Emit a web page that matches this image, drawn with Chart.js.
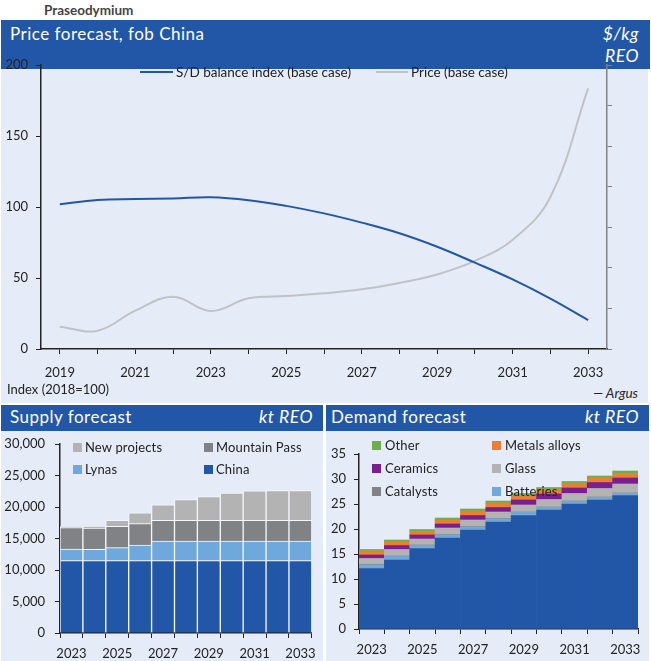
<!DOCTYPE html>
<html lang="en">
<head>
<meta charset="UTF-8">
<title>Praseodymium</title>
<script src="https://cdn.jsdelivr.net/npm/chart.js"></script>
<style>
  html, body { margin: 0; padding: 0; background: #fff; }
  body { width: 651px; height: 661px; position: relative; overflow: hidden; font-family: Lato, sans-serif; color: #222; }
  canvas { position: absolute; }
  .t { position: absolute; white-space: nowrap; }
  .box { position: absolute; }
  .head { background: #2257a8; }
  .panel { background: #e6ecf7; }
  .title { color: #fff; font-size: 17px; line-height: 22px; letter-spacing: .5px; }
  .unit { color: #fff; font-size: 17.5px; line-height: 22px; font-style: italic; text-align: right; letter-spacing: .5px; }
  .leg { font-size: 13px; letter-spacing: .15px; }
  .sw { position: absolute; width: 9px; height: 9px; }
  .ln { position: absolute; height: 2px; }
</style>
</head>
<body>
  <div class="t" style="left:44px;top:2px;font-size:13.5px;font-weight:700;color:#444">Praseodymium</div>

  <div class="box panel" style="left:1px;top:69px;width:647px;height:334px"></div>
  <div class="box head" style="left:1px;top:20px;width:649px;height:49px"></div>
  <div class="t title" style="left:10px;top:23px">Price forecast, fob China</div>
  <div class="t unit" style="right:12px;top:23px">$/kg</div>
  <div class="t unit" style="right:12px;top:45px">REO</div>

  <div class="box panel" style="left:1px;top:431px;width:322px;height:230px"></div>
  <div class="box head" style="left:1px;top:405px;width:322px;height:26px"></div>
  <div class="t title" style="left:10px;top:406px">Supply forecast</div>
  <div class="t unit" style="left:240px;width:73px;top:406px">kt REO</div>

  <div class="box panel" style="left:326px;top:431px;width:323px;height:230px"></div>
  <div class="box head" style="left:326px;top:405px;width:323px;height:26px"></div>
  <div class="t title" style="left:331px;top:406px">Demand forecast</div>
  <div class="t unit" style="left:566px;width:73px;top:406px">kt REO</div>

  <canvas id="priceChart" width="651" height="330" style="left:0;top:55px"></canvas>
  <canvas id="supplyChart" width="323" height="230" style="left:1px;top:431px"></canvas>
  <canvas id="demandChart" width="323" height="230" style="left:326px;top:431px"></canvas>

  <div class="t" style="left:7px;top:381px;font-size:13px">Index (2018=100)</div>
  <div class="t" style="right:13px;top:385px;font-size:13.5px;font-style:italic">— Argus</div>

  <div id="legends"></div>

<script>
  const BLUE = '#2257a8';
  const LIGHT_BLUE = '#6fa8dc';
  const DARK_GREY = '#808285';
  const LIGHT_GREY = '#b3b3b3';
  const PURPLE = '#7a1f8f';
  const ORANGE = '#ed7d31';
  const GREEN = '#6db04a';
  const FONT = { family: 'Lato, sans-serif', size: 13 };

  const priceYears = ['2019', '2020', '2021', '2022', '2023', '2024', '2025', '2026', '2027', '2028', '2029', '2030', '2031', '2032', '2033'];
  const balanceIndex = [101.9, 105, 105.6, 106, 106.8, 104.8, 100.8, 95.5, 89, 81.5, 72, 60.8, 49, 35.5, 20.4];
  const priceBase = [15.7, 12.9, 27, 36.8, 26.8, 35.7, 37.3, 39.2, 42, 46.5, 52.5, 62, 77, 107, 183.5];

  const forecastYears = ['2023', '2024', '2025', '2026', '2027', '2028', '2029', '2030', '2031', '2032', '2033'];

  const supplyChina = [11500, 11500, 11500, 11500, 11500, 11500, 11500, 11500, 11500, 11500, 11500];
  const supplyLynas = [1830, 1800, 2040, 2460, 3100, 3100, 3100, 3100, 3100, 3100, 3100];
  const supplyMountainPass = [3390, 3350, 3400, 3400, 3300, 3300, 3300, 3300, 3300, 3300, 3300];
  const supplyNewProjects = [160, 290, 960, 1700, 2430, 3280, 3760, 4300, 4660, 4720, 4720];

  const demandChina = [12.1, 13.8, 16.1, 18.2, 19.8, 21.4, 22.7, 23.8, 25, 25.8, 26.7];
  const demandBatteries = [0.7, 0.7, 0.6, 0.6, 0.6, 0.6, 0.6, 0.5, 0.5, 0.5, 0.4];
  const demandCatalysts = [0.1, 0.1, 0.1, 0.1, 0.1, 0.1, 0.1, 0.1, 0.1, 0.1, 0.1];
  const demandGlass = [1.2, 1.3, 1.2, 1.3, 1.3, 1.3, 1.4, 1.5, 1.5, 1.7, 1.8];
  const demandCeramics = [0.7, 0.8, 0.8, 0.8, 0.9, 0.9, 1, 1.1, 1.1, 1.2, 1.2];
  const demandMetals = [0.8, 0.7, 0.7, 0.8, 0.9, 0.9, 0.9, 0.9, 0.9, 0.9, 0.9];
  const demandOther = [0.3, 0.4, 0.4, 0.4, 0.4, 0.4, 0.4, 0.4, 0.4, 0.4, 0.5];

  // every second year gets a label, the tick marks stay
  function everyOther(value, index) {
    return index % 2 === 0 ? this.getLabelForValue(value) : '';
  }

  // fixes the axis thickness so the plot area lands where it should
  function fixHeight(h) { return function (scale) { scale.height = h; }; }
  function fixWidth(w) {
    return function (scale) {
      scale.width = w;
      // tick padding otherwise pushes the plot top down
      scale.paddingTop = 0;
      scale.paddingBottom = 0;
    };
  }

  function xAxis(height, tickOffset, padding) {
    return {
      stacked: true,
      afterFit: fixHeight(height),
      border: { color: '#222', width: 1.5 },
      grid: { drawOnChartArea: false, offset: tickOffset, tickColor: '#222', tickLength: 5 },
      ticks: { autoSkip: false, maxRotation: 0, color: '#222', font: FONT, padding: padding, callback: everyOther }
    };
  }

  function yAxis(width, min, max, step, labelGap, format) {
    return {
      stacked: true,
      min: min,
      max: max,
      afterFit: fixWidth(width),
      border: { color: '#222', width: 1.5 },
      grid: { drawOnChartArea: false, tickColor: '#222', tickLength: 5 },
      ticks: { stepSize: step, color: '#222', font: FONT, padding: labelGap, callback: format }
    };
  }

  function barSet(label, data, color, borderWidth) {
    return {
      label: label,
      data: data,
      backgroundColor: color,
      borderColor: borderWidth ? '#f4f7fc' : color,
      borderWidth: borderWidth,
      borderSkipped: 'bottom',
      barPercentage: 1,
      categoryPercentage: 1
    };
  }

  const quiet = { legend: { display: false }, tooltip: { enabled: false } };

  new Chart(document.getElementById('priceChart'), {
    type: 'line',
    data: {
      labels: priceYears,
      datasets: [
        { label: 'S/D balance index (base case)', data: balanceIndex, borderColor: BLUE, borderWidth: 2, pointRadius: 0, tension: 0.4 },
        { label: 'Price (base case)', data: priceBase, borderColor: '#c0c2c6', borderWidth: 2, pointRadius: 0, tension: 0.4 }
      ]
    },
    options: {
      responsive: false,
      animation: false,
      layout: { autoPadding: false, padding: { top: 10 } },
      plugins: quiet,
      scales: {
        x: Object.assign(xAxis(36, false, 11), { stacked: false, offset: true }),
        y: Object.assign(yAxis(41, 0, 200, 50, 8), { stacked: false }),
        y2: {
          position: 'right',
          min: 0,
          max: 7,
          afterFit: fixWidth(44),
          border: { color: '#808285', width: 1.5 },
          grid: { drawOnChartArea: false, tickColor: '#808285', tickLength: 5 },
          ticks: { stepSize: 1, padding: 0, callback: function () { return ''; } }
        }
      }
    }
  });

  new Chart(document.getElementById('supplyChart'), {
    type: 'bar',
    data: {
      labels: forecastYears,
      datasets: [
        barSet('China', supplyChina, BLUE, 1),
        barSet('Lynas', supplyLynas, LIGHT_BLUE, 1),
        barSet('Mountain Pass', supplyMountainPass, DARK_GREY, 1),
        barSet('New projects', supplyNewProjects, LIGHT_GREY, 1)
      ]
    },
    options: {
      responsive: false,
      animation: false,
      layout: { autoPadding: false, padding: { top: 13, right: 11 } },
      plugins: quiet,
      scales: {
        x: xAxis(28, true, 8),
        y: yAxis(59, 0, 30000, 5000, 10, function (v) { return v.toLocaleString('en-US'); })
      }
    }
  });

  new Chart(document.getElementById('demandChart'), {
    type: 'bar',
    data: {
      labels: forecastYears,
      datasets: [
        barSet('China', demandChina, BLUE, 0),
        barSet('Batteries', demandBatteries, LIGHT_BLUE, 0),
        barSet('Catalysts', demandCatalysts, DARK_GREY, 0),
        barSet('Glass', demandGlass, LIGHT_GREY, 0),
        barSet('Ceramics', demandCeramics, PURPLE, 0),
        barSet('Metals alloys', demandMetals, ORANGE, 0),
        barSet('Other', demandOther, GREEN, 0)
      ]
    },
    options: {
      responsive: false,
      animation: false,
      layout: { autoPadding: false, padding: { top: 23, right: 11 } },
      plugins: quiet,
      scales: {
        x: xAxis(32, true, 8),
        y: yAxis(33, 0, 35, 5, 8)
      }
    }
  });

  // legends sit on top of the plots, some overlap the bars like in the original
  const lineLegend = [
    ['S/D balance index (base case)', BLUE, 140, 176],
    ['Price (base case)', '#c0c2c6', 376, 411]
  ];
  const swatchLegend = [
    ['New projects', LIGHT_GREY, 73, 85, 447],
    ['Mountain Pass', DARK_GREY, 204, 216, 447],
    ['Lynas', LIGHT_BLUE, 73, 85, 469],
    ['China', BLUE, 204, 216, 469],
    ['Other', GREEN, 372, 385, 445],
    ['Metals alloys', ORANGE, 492, 505, 445],
    ['Ceramics', PURPLE, 372, 385, 468],
    ['Glass', LIGHT_GREY, 492, 505, 468],
    ['Catalysts', DARK_GREY, 372, 385, 491],
    ['Batteries', LIGHT_BLUE, 492, 505, 491]
  ];
  const holder = document.getElementById('legends');
  function addLabel(text, x, yMid, size) {
    const el = document.createElement('div');
    el.className = 't leg';
    el.textContent = text;
    el.style.left = x + 'px';
    el.style.top = (yMid - 9) + 'px';
    el.style.lineHeight = '18px';
    if (size) { el.style.fontSize = size + 'px'; el.style.letterSpacing = '0'; }
    holder.appendChild(el);
  }
  lineLegend.forEach(function (l) {
    const line = document.createElement('div');
    line.className = 'ln';
    line.style.cssText = 'left:' + l[2] + 'px;top:71px;width:' + (l[3] - l[2] - 3) + 'px;background:' + l[1];
    holder.appendChild(line);
    addLabel(l[0], l[3], 72, 13.5);
  });
  swatchLegend.forEach(function (l) {
    const sw = document.createElement('div');
    sw.className = 'sw';
    sw.style.cssText = 'left:' + l[2] + 'px;top:' + (l[4] - 4) + 'px;background:' + l[1];
    holder.appendChild(sw);
    addLabel(l[0], l[3], l[4]);
  });
</script>
</body>
</html>
